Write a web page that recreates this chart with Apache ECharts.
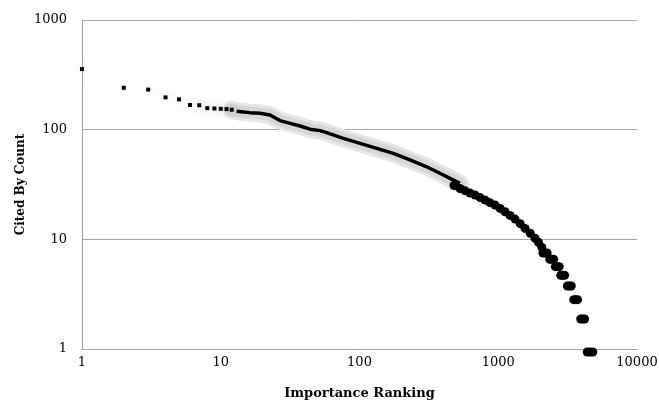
<!DOCTYPE html>
<html>
<head>
<meta charset="utf-8">
<script src="https://cdn.jsdelivr.net/npm/echarts@6/dist/echarts.min.js"></script>
<style>
html,body{margin:0;padding:0;background:#fff;}
#c{width:659px;height:401px;}
</style>
</head>
<body>
<div id="c"></div>
<script>
// Top-ranked items (individual square markers)
var topRanks  = [1, 2, 3, 4, 5, 6, 7, 8, 9, 10, 11, 12];
var topCounts = [357, 241, 232, 197, 189, 168, 167, 157, 156, 155, 154, 152];

// Dense middle part (ranks 13 - 530)
var midRanks  = [13, 14, 16.2, 19.2, 22.6, 26.7, 31.6, 37.3, 44, 51.9, 58, 76.4, 101, 133, 175, 231, 305, 402, 449, 530];
var midCounts = [147, 146, 143, 141, 136, 121, 114, 108, 101, 98, 94, 83.4, 75, 67.6, 60.8, 52.9, 45.9, 38.6, 36, 32.4];

// Tail (ranks ~480 - 4800)
var tailRanks  = [480, 530, 576, 625, 680, 740, 803, 870, 947, 1030, 1119, 1215, 1321, 1440, 1559, 1700, 1840, 1950, 2060,
                  2100, 2173, 2250, 2350, 2428, 2510, 2580, 2665, 2750, 2820, 2915, 3010, 3150, 3253, 3360,
                  3500, 3616, 3730, 3930, 4061, 4190, 4380, 4586, 4800];
var tailCounts = [33, 31, 29.6, 28.2, 27, 25.6, 24.3, 23, 21.9, 20.4, 19, 17.6, 16.3, 14.8, 13.4, 12.1, 10.9, 10, 9,
                  8, 8, 8, 7, 7, 7, 6, 6, 6, 5, 5, 5, 4, 4, 4,
                  3, 3, 3, 2, 2, 2, 1, 1, 1];

var xTicks = [1, 10, 100, 1000, 10000];
var yTicks = [1, 10, 100, 1000];

function pairs(a, b) { return a.map(function (v, i) { return [v, b[i]]; }); }
var topData = pairs(topRanks, topCounts);
var midData = pairs(midRanks, midCounts);
var tailData = pairs(tailRanks, tailCounts);
var haloData = [[topRanks[topRanks.length - 1], topCounts[topCounts.length - 1]]].concat(midData);

var font = 'DejaVu Serif';
var fmt = function (v) { return String(Math.round(v)); };
var chart = echarts.init(document.getElementById('c'), null, {renderer: 'canvas'});
chart.setOption({
  animation: false,
  backgroundColor: '#fff',
  grid: {left: 82, right: 22, top: 20, bottom: 52, containLabel: false, outerBoundsMode: 'none'},
  xAxis: {
    type: 'log', logBase: 10, min: xTicks[0], max: xTicks[xTicks.length - 1],
    name: 'Importance Ranking', nameLocation: 'middle', nameGap: 38, nameMoveOverlap: false,
    nameTextStyle: {fontFamily: font, fontWeight: 'bold', fontSize: 13, color: '#000'},
    axisLine: {show: true, lineStyle: {color: '#a0a0a0', width: 1}},
    axisTick: {show: false},
    axisLabel: {fontFamily: font, fontSize: 13, color: '#000', margin: 7, formatter: fmt},
    splitLine: {show: false}
  },
  yAxis: {
    type: 'log', logBase: 10, min: yTicks[0], max: yTicks[yTicks.length - 1],
    name: 'Cited By Count', nameLocation: 'middle', nameGap: 55, nameRotate: 90, nameMoveOverlap: false,
    nameTextStyle: {fontFamily: font, fontWeight: 'bold', fontSize: 12, color: '#000'},
    axisLine: {show: true, lineStyle: {color: '#a0a0a0', width: 1}},
    axisTick: {show: false},
    axisLabel: {fontFamily: font, fontSize: 13, color: '#000', margin: 15, formatter: fmt},
    splitLine: {show: true, lineStyle: {color: '#a6a6a6', width: 1}}
  },
  series: [
    {type: 'line', data: haloData, symbol: 'none', silent: true, z: 1,
      lineStyle: {color: '#e6e6e6', width: 18, cap: 'round', join: 'round'}},
    {type: 'line', data: haloData, symbol: 'none', silent: true, z: 1,
      lineStyle: {color: '#d6d6d6', width: 12, cap: 'round', join: 'round'}},
    {type: 'scatter', data: topData, symbol: 'rect', symbolSize: 4, z: 3,
      itemStyle: {color: '#000', opacity: 1, shadowBlur: 12, shadowColor: 'rgba(0,0,0,0.25)'}},
    {type: 'line', data: midData, symbol: 'none', z: 3, lineStyle: {color: '#000', width: 3.5, join: 'round'}},
    {type: 'scatter', data: tailData, symbol: 'circle', symbolSize: 9, symbolOffset: [0, 3], z: 4,
      itemStyle: {color: '#000', opacity: 1}}
  ]
});
</script>
</body>
</html>
